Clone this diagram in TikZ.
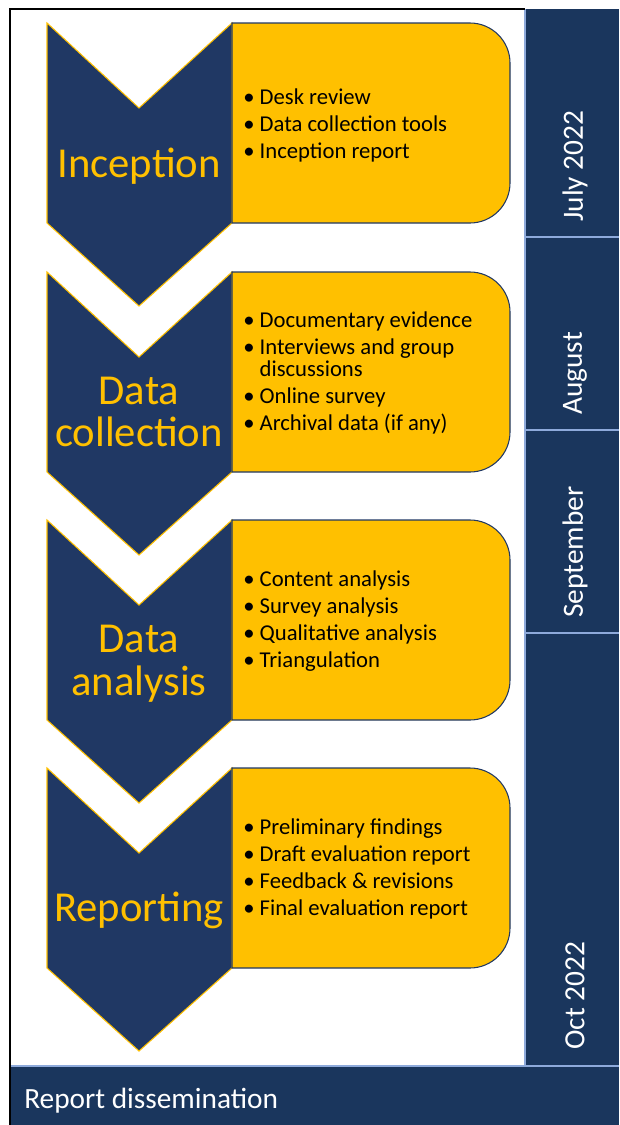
\documentclass[tikz,border=0pt]{standalone}
\usepackage{fontspec}
\setmainfont{Carlito}
\usepackage{tikz}
\usetikzlibrary{positioning}

\definecolor{navy}{HTML}{203864}
\definecolor{gold}{HTML}{FFC000}
\definecolor{colnavy}{HTML}{1A365D}
\definecolor{paleblue}{HTML}{8EAADB}

\begin{document}
\begin{tikzpicture}[x=0.75pt,y=-0.75pt,
  chevron/.style={fill=navy,draw=gold,line width=0.8pt},
  itembox/.style={fill=gold,draw=navy,line width=0.8pt},
  cell/.style={fill=colnavy},
  rule/.style={draw=paleblue,line width=0.9pt},
  stage/.style={text=gold,font=\fontsize{32}{32}\selectfont,align=center,inner sep=0pt},
  items/.style={anchor=west,align=left,font=\fontsize{17}{20.25}\selectfont,inner sep=0pt},
  month/.style={rotate=90,anchor=west,text=white,font=\fontsize{22}{26}\selectfont,inner sep=0pt},
  stagearrow/.pic={\path[chevron] (47,0) -- (139,85) -- (232,0) -- (232,200) -- (139,283) -- (47,200) -- cycle;},
  stagebox/.pic={\path[itembox] (232,0) -- (470,0) .. controls (492,0) and (510,18) .. (510,40)
      -- (510,160) .. controls (510,182) and (492,200) .. (470,200) -- (232,200) -- cycle;}
]
\useasboundingbox (0,0) rectangle (619,1125);

% month column
\path[cell] (525,9) rectangle (619,1066);
\path[cell] (9,1066) rectangle (619,1126);
\draw[rule] (525,9) -- (525,1066);
\draw[rule] (525,237) -- (619,237);
\draw[rule] (525,430) -- (619,430);
\draw[rule] (525,633) -- (619,633);
\draw[rule] (10,1066) -- (619,1066);

% frame
\draw[line width=1.5pt] (525,9) -- (10,9) -- (10,1125);

% stages
\pic at (0,23) {stagearrow};
\pic at (0,23) {stagebox};
\pic at (0,272) {stagearrow};
\pic at (0,272) {stagebox};
\pic at (0,520) {stagearrow};
\pic at (0,520) {stagebox};
\pic at (0,768) {stagearrow};
\pic at (0,768) {stagebox};

\node[stage] (inception) at (139,166) {Inception};
\node[stage] (collection) at (139,412) {Data\\collection};
\node[stage] (analysis) at (139,664) {Data\\analysis};
\node[stage] (reporting) at (139,910) {Reporting};

\node[items] (inception_list) at (243,125) {\textbullet\ Desk review\\
  \textbullet\ Data collection tools\\
  \textbullet\ Inception report};
\node[items] (collection_list) at (243,373) {\textbullet\ Documentary evidence\\
  \textbullet\ Interviews and group\\[-3.75pt]
  \phantom{\textbullet\ }discussions\\
  \textbullet\ Online survey\\
  \textbullet\ Archival data (if any)};
\node[items] (analysis_list) at (243,621) {\textbullet\ Content analysis\\
  \textbullet\ Survey analysis\\
  \textbullet\ Qualitative analysis\\
  \textbullet\ Triangulation};
\node[items] (reporting_list) at (243,869) {\textbullet\ Preliminary findings\\
  \textbullet\ Draft evaluation report\\
  \textbullet\ Feedback \& revisions\\
  \textbullet\ Final evaluation report};

% months
\node[month] (july) at (575,222) {July 2022};
\node[month] (august) at (575,415) {August};
\node[month] (september) at (575,618) {September};
\node[month] (october) at (575,1050) {Oct 2022};

\node[anchor=base west,text=white,font=\fontsize{22}{26}\selectfont,inner sep=0pt] (dissemination) at (24,1108) {Report dissemination};
\end{tikzpicture}
\end{document}
